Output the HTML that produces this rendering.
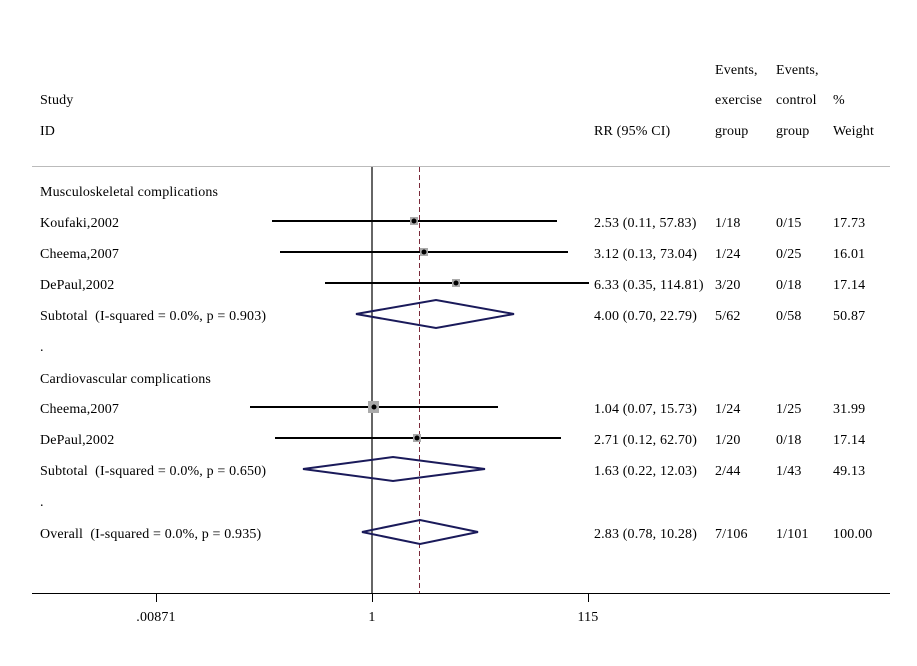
<!DOCTYPE html>
<html><head><meta charset="utf-8"><style>
body{margin:0;background:#fff}
svg text{font-family:"Liberation Serif",serif;font-size:14px;letter-spacing:0.15px;fill:#000}
</style></head><body>
<svg width="917" height="661" viewBox="0 0 917 661" xmlns="http://www.w3.org/2000/svg">
<rect width="917" height="661" fill="#fff"/>
<g transform="translate(0,2)">
<text x="715" y="72">Events,</text><text x="776" y="72">Events,</text>
<text x="40" y="102">Study</text><text x="715" y="102">exercise</text><text x="776" y="102">control</text><text x="833" y="102">%</text>
<text x="40" y="133">ID</text><text x="594" y="133">RR (95% CI)</text><text x="715" y="133">group</text><text x="776" y="133">group</text><text x="833" y="133">Weight</text>
</g>
<line x1="32" y1="166.5" x2="890" y2="166.5" stroke="#bbb" stroke-width="1"/>
<line x1="372" y1="167" x2="372" y2="593" stroke="#000" stroke-width="1.2"/>
<line x1="419.5" y1="167" x2="419.5" y2="593" stroke="#7a2a3a" stroke-width="1" stroke-dasharray="5,3"/>
<g stroke="#000" stroke-width="2">
<line x1="272" y1="221" x2="557" y2="221"/>
<line x1="280" y1="252" x2="568" y2="252"/>
<line x1="325" y1="283" x2="589" y2="283"/>
<line x1="250" y1="407" x2="498" y2="407"/>
<line x1="275" y1="438" x2="561" y2="438"/>
</g>
<g fill="#aaa"><rect x="410" y="217" width="8" height="8"/><rect x="420" y="248" width="8" height="8"/><rect x="452" y="279" width="8" height="8"/><rect x="368" y="401" width="11" height="12"/><rect x="413" y="434" width="8" height="8"/></g>
<g fill="#000"><circle cx="414" cy="221" r="2.5"/><circle cx="424" cy="252" r="2.5"/><circle cx="456" cy="283" r="2.5"/><circle cx="374" cy="407" r="2.5"/><circle cx="417" cy="438" r="2.5"/></g>
<g fill="none" stroke="#1a1a5a" stroke-width="2">
<polygon points="356,314 436,300 514,314 436,328"/>
<polygon points="303,469 393,457 485,469 393,481"/>
<polygon points="362,532 420,520 478,532 420,544"/>
</g>
<g transform="translate(0,2)">
<text x="40" y="194">Musculoskeletal complications</text>
<text x="40" y="225">Koufaki,2002</text><text x="594" y="225">2.53 (0.11, 57.83)</text><text x="715" y="225">1/18</text><text x="776" y="225">0/15</text><text x="833" y="225">17.73</text>
<text x="40" y="256">Cheema,2007</text><text x="594" y="256">3.12 (0.13, 73.04)</text><text x="715" y="256">1/24</text><text x="776" y="256">0/25</text><text x="833" y="256">16.01</text>
<text x="40" y="287">DePaul,2002</text><text x="594" y="287">6.33 (0.35, 114.81)</text><text x="715" y="287">3/20</text><text x="776" y="287">0/18</text><text x="833" y="287">17.14</text>
<text x="40" y="318" xml:space="preserve">Subtotal  (I-squared = 0.0%, p = 0.903)</text><text x="594" y="318">4.00 (0.70, 22.79)</text><text x="715" y="318">5/62</text><text x="776" y="318">0/58</text><text x="833" y="318">50.87</text>
<text x="40" y="349">.</text>
<text x="40" y="381">Cardiovascular complications</text>
<text x="40" y="411">Cheema,2007</text><text x="594" y="411">1.04 (0.07, 15.73)</text><text x="715" y="411">1/24</text><text x="776" y="411">1/25</text><text x="833" y="411">31.99</text>
<text x="40" y="442">DePaul,2002</text><text x="594" y="442">2.71 (0.12, 62.70)</text><text x="715" y="442">1/20</text><text x="776" y="442">0/18</text><text x="833" y="442">17.14</text>
<text x="40" y="473" xml:space="preserve">Subtotal  (I-squared = 0.0%, p = 0.650)</text><text x="594" y="473">1.63 (0.22, 12.03)</text><text x="715" y="473">2/44</text><text x="776" y="473">1/43</text><text x="833" y="473">49.13</text>
<text x="40" y="504">.</text>
<text x="40" y="536" xml:space="preserve">Overall  (I-squared = 0.0%, p = 0.935)</text><text x="594" y="536">2.83 (0.78, 10.28)</text><text x="715" y="536">7/106</text><text x="776" y="536">1/101</text><text x="833" y="536">100.00</text>
</g>
<line x1="32" y1="593.5" x2="890" y2="593.5" stroke="#000" stroke-width="1"/>
<g stroke="#000"><line x1="156.5" y1="593" x2="156.5" y2="602"/><line x1="372.5" y1="593" x2="372.5" y2="602"/><line x1="588.5" y1="593" x2="588.5" y2="602"/></g>
<text x="156" y="621" text-anchor="middle">.00871</text>
<text x="372" y="621" text-anchor="middle">1</text>
<text x="588" y="621" text-anchor="middle">115</text>
</svg>
</body></html>
